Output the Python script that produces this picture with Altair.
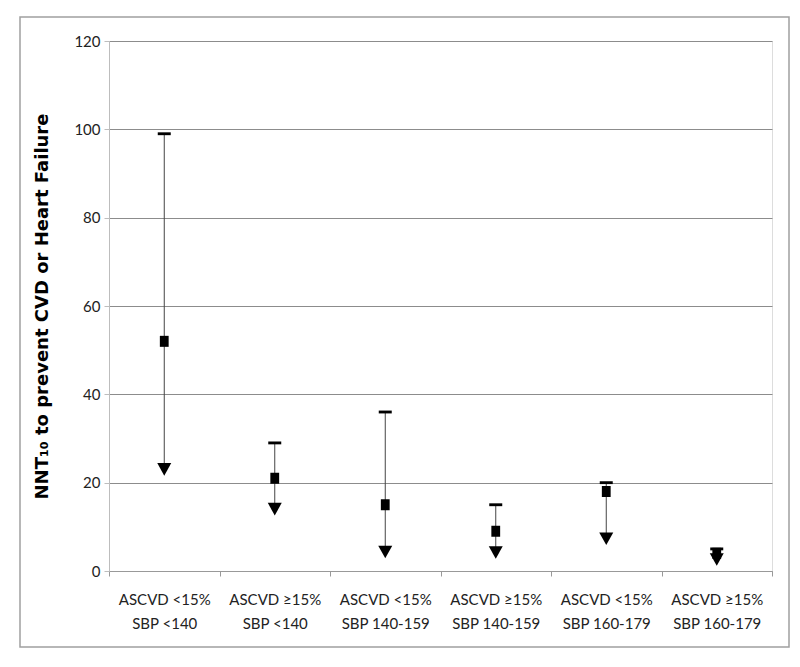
import altair as alt
import pandas as pd

line1 = ["ASCVD <15%", "ASCVD ≥15%", "ASCVD <15%", "ASCVD ≥15%", "ASCVD <15%", "ASCVD ≥15%"]
line2 = ["SBP <140", "SBP <140", "SBP 140-159", "SBP 140-159", "SBP 160-179", "SBP 160-179"]
upper = [99, 29, 36, 15, 20, 5]
point = [52, 21, 15, 9, 18, 4]
lower = [23, 14, 4.3, 4.2, 7.3, 2.6]
y_ticks = [0, 20, 40, 60, 80, 100, 120]

cats = [a + "\n" + b for a, b in zip(line1, line2)]
df = pd.DataFrame({"cat": cats, "upper": upper, "point": point, "lower": lower})

FONT = "Lato"

x = alt.X("cat:N", sort=cats, title=None,
          scale=alt.Scale(paddingInner=0, paddingOuter=0),
          axis=alt.Axis(labelAngle=0, tickBand="extent",
                        labelExpr="split(datum.label, '\\n')",
                        labelFont=FONT, labelFontSize=15, labelLineHeight=24,
                        labelColor="#222", labelPadding=16,
                        domainColor="#999", tickColor="#999", tickSize=5))
yscale = alt.Scale(domain=[0, 120], nice=False)
yaxis = alt.Axis(values=y_ticks, grid=True, gridColor="#8c8c8c", gridWidth=1,
                 domainColor="#bdbdbd", tickColor="#bdbdbd", tickSize=5,
                 labelFont=FONT, labelFontSize=15, labelColor="#222", labelPadding=4,
                 title="NNT₁₀ to prevent CVD or Heart Failure",
                 titleFont="DejaVu Sans", titleFontWeight="bold", titleFontSize=18,
                 titleColor="#000", titlePadding=22)

base = alt.Chart(df)

rule = base.mark_rule(color="#444", strokeWidth=1).encode(
    x=x, y=alt.Y("upper:Q", scale=yscale, axis=yaxis), y2="lower:Q")

dash = base.mark_point(shape="M-1,-0.22L1,-0.22L1,0.22L-1,0.22Z", filled=True,
                       color="#000", opacity=1, size=169).encode(
    x=x, y=alt.Y("upper:Q", scale=yscale))

sq = base.mark_point(shape="M-0.8,-1L0.8,-1L0.8,1L-0.8,1Z", filled=True,
                     color="#000", opacity=1, size=121).encode(
    x=x, y=alt.Y("point:Q", scale=yscale))

tri = base.mark_point(shape="M-1,-0.9L1,-0.9L0,0.9Z", filled=True,
                      color="#000", opacity=1, size=196).encode(
    x=x, y=alt.Y("lower:Q", scale=yscale))

frame = alt.Chart(pd.DataFrame({"a": [0]})).mark_rect(
    fill=None, stroke="#a0a0a0", strokeWidth=1.5).encode(
    x=alt.value(-89), x2=alt.value(680), y=alt.value(-24), y2=alt.value(606))

chart = alt.layer(frame, rule, dash, sq, tri).properties(
    width=663, height=530,
    padding={"left": 101, "top": 33, "right": 20, "bottom": 80},
    autosize="none",
).configure_view(stroke=None).configure(background="white")

chart.save("out.html", embed_options={"renderer": "svg", "actions": False})
